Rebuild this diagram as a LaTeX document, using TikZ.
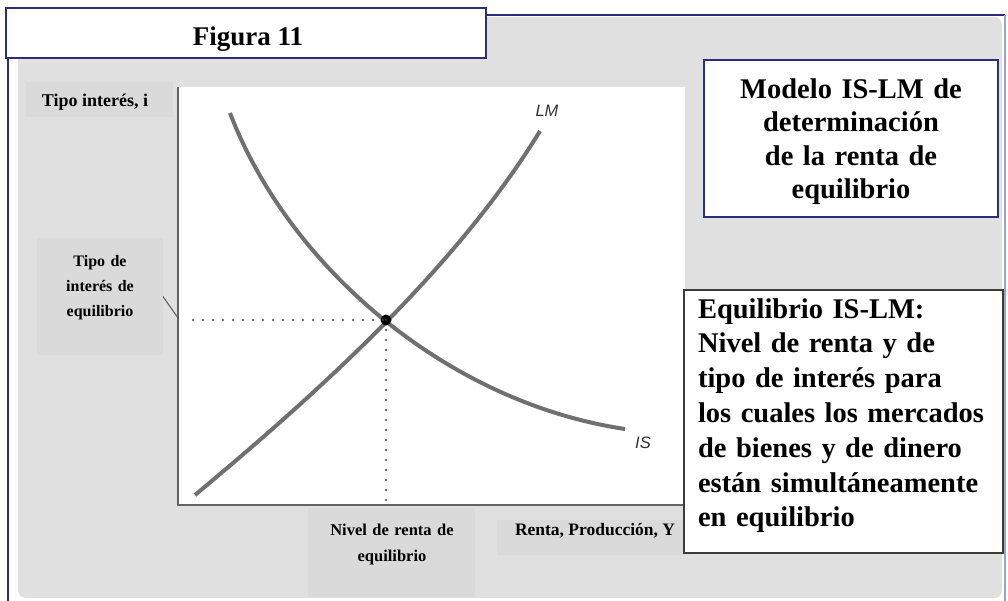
\documentclass[tikz,border=0pt]{standalone}
\usepackage{fontspec}
\setmainfont{Liberation Serif}
\newfontfamily\sansfam{Liberation Sans}
\definecolor{navy}{RGB}{45,45,125}
\definecolor{bggray}{RGB}{224,224,224}
\definecolor{lblgray}{RGB}{218,218,218}
\definecolor{curvegray}{RGB}{112,112,112}
\definecolor{axisgray}{RGB}{100,100,100}
\definecolor{eqborder}{RGB}{60,60,60}
\begin{document}
\begin{tikzpicture}[x=1pt,y=-1pt,
  every node/.style={inner sep=0pt, outer sep=0pt},
  lblbox/.style={rectangle, fill=lblgray, draw=none},
  navybox/.style={rectangle, fill=white, draw=navy, line width=1.5pt},
  eqbox/.style={rectangle, fill=white, draw=eqborder, line width=2pt},
  curve/.style={draw=curvegray, line width=4pt},
  axisline/.style={draw=axisgray, line width=1.8pt},
  dotline/.style={draw=black!75, line width=2.4pt, dash pattern=on 0pt off 10pt, line cap=round},
  connector/.style={draw=black!65, line width=1pt},
  curvelabel/.style={font=\fontsize{16.5}{18}\selectfont\sansfam\itshape, text=black!80},
  boldtxt/.style={font=\fontsize{#1}{#1}\selectfont\bfseries}
]
\useasboundingbox (0,0) rectangle (1008,600);
% background and frame
\fill[bggray, rounded corners=8pt] (18,17) rectangle (1002,598);
\draw[navy, line width=1.5pt] (8,620) -- (8,15) -- (1005,15);
\draw[navy!45, line width=1.2pt] (1005,15) -- (1005,620);
% plot area
\fill[white] (178,87) rectangle (685,505);
% label boxes
\node[lblbox, minimum width=147pt, minimum height=35pt] (ybox) at (99.5,99.5) {};
\node[lblbox, minimum width=126pt, minimum height=117pt] (ibox) at (100,296.5) {};
\node[lblbox, minimum width=167pt, minimum height=89pt] (nbox) at (391.5,552.5) {};
\node[lblbox, minimum width=193pt, minimum height=35pt] (rbox) at (593.5,537.5) {};
% axes
\coordinate (origin) at (178,505);
\coordinate (ytop) at (178,87);
\coordinate (xend) at (690,505);
\draw[axisline] (ytop) -- (origin) -- (xend);
% curves
\coordinate (lmA) at (195,495);
\coordinate (lmB) at (540,131);
\coordinate (isA) at (230,113);
\coordinate (isB) at (625,429);
\draw[curve] (lmA) .. controls (315,395) and (455,270) .. (lmB);
\draw[curve] (isA) .. controls (288,265) and (445,402) .. (isB);
\node[curvelabel] (lmlab) at (547,111) {LM};
\node[curvelabel] (islab) at (643,443) {IS};
% equilibrium
\node[circle, fill=black, minimum size=11pt] (eq) at (386,320) {};
\coordinate (hstart) at (193,320);
\coordinate (vend) at (386,508);
\draw[dotline] (hstart) -- (eq.center);
\draw[dotline] (eq.center) -- (vend);
\coordinate (iaxis) at (178,318);
\draw[connector] (ibox.east) -- (iaxis);
% white boxes
\node[eqbox, minimum width=319pt, minimum height=263pt] (eqframe) at (843.5,421.5) {};
\node[navybox, minimum width=294pt, minimum height=157pt] (modframe) at (851,138.5) {};
\node[navybox, minimum width=480pt, minimum height=50pt] (titleframe) at (246,33) {};
% texts
\node[boldtxt=27, anchor=base] (titletext) at (248,45) {Figura 11};
\node[boldtxt=18, anchor=base] (ytext) at (95,106) {Tipo interés, i};
\node[font=\fontsize{16}{25}\selectfont\bfseries, text width=124pt, align=center, anchor=base] (itext) at (100,266) {Tipo de\\interés de\\equilibrio};
\node[font=\fontsize{16.5}{26}\selectfont\bfseries, text width=165pt, align=center, anchor=base] (ntext) at (392,535) {Nivel de renta de\\equilibrio};
\node[boldtxt=17.5, anchor=base west] (rtext) at (515,535) {Renta, Producción, Y};
\node[font=\fontsize{28.5}{33.5}\selectfont\bfseries, text width=290pt, align=center, anchor=base] (modtext) at (851,98) {Modelo IS-LM de\\determinación\\de la renta de\\equilibrio};
\node[font=\fontsize{28.5}{34.8}\selectfont\bfseries, text width=300pt, align=left, anchor=base west] (eqtext) at (698,318) {Equilibrio IS-LM:\\Nivel de renta y de\\tipo de interés para\\los cuales los mercados\\de bienes y de dinero\\están simultáneamente\\en equilibrio};
\end{tikzpicture}
\end{document}
